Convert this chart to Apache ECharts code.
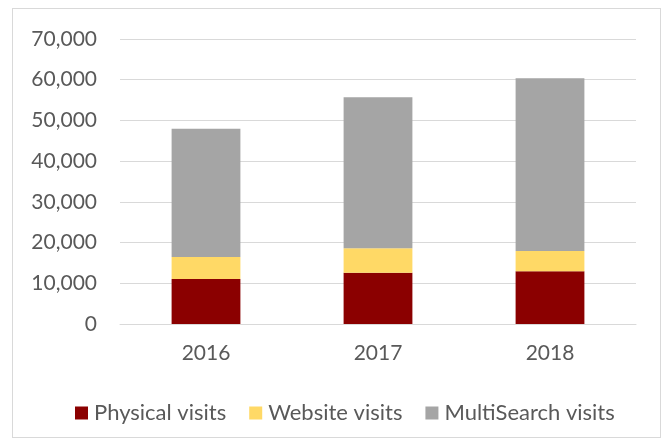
<!DOCTYPE html>
<html>
<head>
<meta charset="utf-8">
<script src="https://cdn.jsdelivr.net/npm/echarts@6/dist/echarts.min.js"></script>
<style>
  html, body { margin: 0; padding: 0; background: #fff; }
  #frame { position: absolute; left: 12px; top: 8px; width: 647px; height: 428px; border: 1px solid #d9d9d9; }
  #chart { position: absolute; left: 0; top: 0; width: 668px; height: 441px; }
</style>
</head>
<body>
<div id="frame"></div>
<div id="chart"></div>
<script>
const years = ['2016', '2017', '2018'];
const physicalVisits = [11050, 12600, 12950];
const websiteVisits = [5400, 6000, 5000];
const multiSearchVisits = [31500, 37100, 42400];

const textColor = '#595959';
const font = 'Lato, "Open Sans", sans-serif';

const chart = echarts.init(document.getElementById('chart'));
const option = {
  animation: false,
  grid: { left: 120, right: 32, top: 39, bottom: 117 },
  legend: {
    top: 397,
    left: 70,
    itemWidth: 13,
    itemHeight: 13,
    itemGap: 23,
    icon: 'rect',
    textStyle: { color: textColor, fontSize: 22, fontFamily: font, padding: [0, 0, 0, 1] },
    data: ['Physical visits', 'Website visits', 'MultiSearch visits']
  },
  xAxis: {
    type: 'category',
    data: years,
    axisLine: { lineStyle: { color: '#d9d9d9' } },
    axisTick: { show: false },
    axisLabel: { color: textColor, fontSize: 21, fontFamily: font, margin: 19 }
  },
  yAxis: {
    type: 'value',
    min: 0,
    max: 70000,
    interval: 10000,
    axisLine: { show: false },
    axisTick: { show: false },
    splitLine: { lineStyle: { color: '#d9d9d9' } },
    axisLabel: {
      color: textColor, fontSize: 21, fontFamily: font, margin: 23,
      formatter: v => v.toLocaleString('en-US')
    }
  },
  series: [
    {
      name: 'Physical visits', type: 'bar', stack: 'v', barWidth: '40%',
      itemStyle: { color: '#8b0000' }, data: physicalVisits
    },
    {
      name: 'Website visits', type: 'bar', stack: 'v',
      itemStyle: { color: '#ffd966' }, data: websiteVisits
    },
    {
      name: 'MultiSearch visits', type: 'bar', stack: 'v',
      itemStyle: { color: '#a5a5a5' }, data: multiSearchVisits
    }
  ]
};
chart.setOption(option);
</script>
</body>
</html>
